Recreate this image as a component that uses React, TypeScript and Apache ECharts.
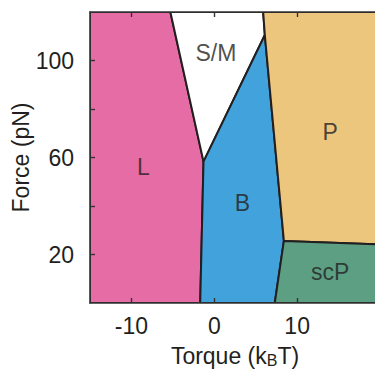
import React, { useEffect, useRef } from "react";
import * as echarts from "echarts";

// Phase regions (data coordinates: torque kBT, force pN)
const regionNames = ["L", "S/M", "B", "P", "scP"];
const regionColors = ["#E66CA6", "#FFFFFF", "#42A3DC", "#EDC67D", "#5D9F83"];
const lX = [-15, -1.7, -1.3, -5.3, -15];
const lY = [0, 0, 58.3, 120, 120];
const smX = [-5.3, -1.3, 6.1, 5.9];
const smY = [120, 58.3, 110.5, 120];
const bX = [-1.7, -1.3, 6.1, 8.4, 7.3];
const bY = [0, 58.3, 110.5, 25.6, 0];
const pX = [5.9, 6.1, 8.4, 20, 20];
const pY = [120, 110.5, 25.6, 24.2, 120];
const scpX = [7.3, 8.4, 20, 20];
const scpY = [0, 25.6, 24.2, 0];
const regionXs = [lX, smX, bX, pX, scpX];
const regionYs = [lY, smY, bY, pY, scpY];
// label positions
const labelX = [-8.55, 0.2, 3.4, 14, 14];
const labelY = [56.2, 103, 41.4, 70.6, 12.9];
// ticks
const xTicks = [-10, 0, 10];
const yTicks = [20, 40, 60, 80, 100];
const yLabels = [20, 60, 100];

const FONT = "'Liberation Sans', Arial, Helvetica, sans-serif";
const INK = "#231F20";

export default function App() {
  const ref = useRef<HTMLDivElement>(null);
  useEffect(() => {
    document.body.style.margin = "0";
    const chart = echarts.init(ref.current!, null, { renderer: "svg" });
    const axisCommon = {
      z: 10,
      nameMoveOverlap: false,
      axisLine: { show: true, onZero: false, lineStyle: { color: "#333", width: 1.6 } },
      splitLine: { show: false },
    };
    chart.setOption({
      animation: false,
      textStyle: { fontFamily: FONT },
      grid: { left: 90, top: 12, width: 290, height: 291, outerBoundsMode: "none", containLabel: false },
      xAxis: [
        {
          ...axisCommon,
          type: "value",
          min: -15,
          max: 20,
          position: "bottom",
          axisTick: { show: true, inside: true, length: 5, customValues: xTicks, lineStyle: { color: "#333", width: 1.4 } },
          axisLabel: { show: true, customValues: xTicks, fontSize: 23, color: INK, margin: 11, fontFamily: FONT },
          name: "{a|Torque (k}{b|B}{a|T)}",
          nameLocation: "middle",
          nameGap: 40,
          nameTextStyle: {
            color: INK,
            fontFamily: FONT,
            rich: {
              a: { fontSize: 23, color: INK, fontFamily: FONT },
              b: { fontSize: 16, color: INK, fontFamily: FONT, padding: [9, 0, 0, 0] },
            },
          },
        },
        {
          ...axisCommon,
          type: "value",
          min: -15,
          max: 20,
          position: "top",
          axisTick: { show: true, inside: true, length: 5, customValues: xTicks, lineStyle: { color: "#333", width: 1.4 } },
          axisLabel: { show: false },
        },
      ],
      yAxis: [
        {
          ...axisCommon,
          type: "value",
          min: 0,
          max: 120,
          axisTick: { show: true, inside: true, length: 5, customValues: yTicks, lineStyle: { color: "#333", width: 1.4 } },
          axisLabel: { show: true, customValues: yLabels, fontSize: 23, color: INK, margin: 16, fontFamily: FONT },
          name: "Force (pN)",
          nameLocation: "middle",
          nameGap: 58,
          nameTextStyle: { fontSize: 23, color: INK, fontFamily: FONT },
        },
      ],
      series: [
        {
          type: "custom",
          coordinateSystem: "cartesian2d",
          clip: true,
          data: regionNames.map((_, i) => [labelX[i], labelY[i]]),
          renderItem: (params: any, api: any) => {
            const i = params.dataIndex;
            const pts = regionXs[i].map((x, k) => api.coord([x, regionYs[i][k]]));
            return {
              type: "polygon",
              shape: { points: pts },
              style: { fill: regionColors[i], stroke: INK, lineWidth: 2, lineJoin: "round" },
            };
          },
          z: 2,
        },
        {
          type: "scatter",
          symbolSize: 0,
          data: regionNames.map((n, i) => ({ value: [labelX[i], labelY[i]], name: n })),
          label: {
            show: true,
            position: "inside",
            formatter: (p: any) => p.name,
            fontSize: 23,
            color: INK,
            fontFamily: FONT,
          },
          z: 5,
        },
      ],
    });
    return () => chart.dispose();
  }, []);
  return <div ref={ref} style={{ width: 375, height: 370 }} />;
}
